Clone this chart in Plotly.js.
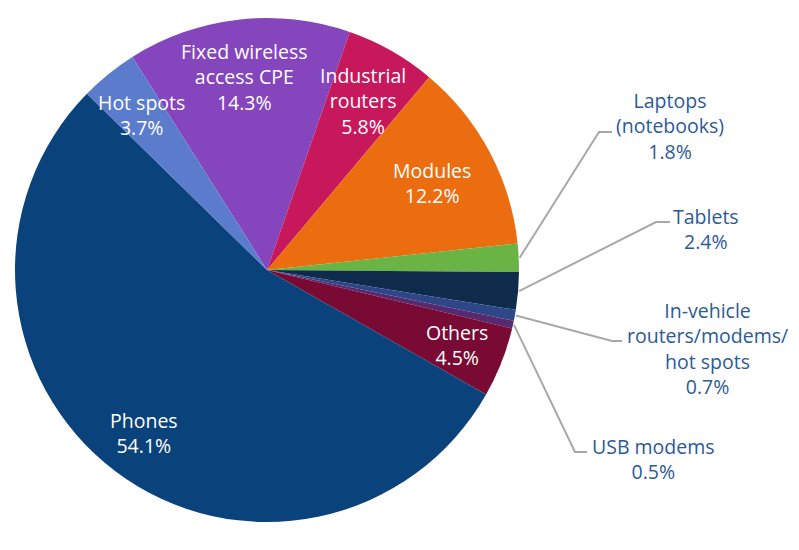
<!DOCTYPE html>
<html>
<head>
<meta charset="utf-8">
<script src="https://cdn.plot.ly/plotly-3.0.1.min.js"></script>
<style>html,body{margin:0;padding:0;background:#fff;}#chart{width:799px;height:550px;}</style>
</head>
<body>
<div id="chart"></div>
<script>
// ---- data ----
const categories = ["Fixed wireless access CPE", "Industrial routers", "Modules", "Laptops (notebooks)", "Tablets",
  "In-vehicle routers/modems/hot spots", "USB modems", "Others", "Phones", "Hot spots"];
const labelText = ["Fixed wireless<br>access CPE", "Industrial<br>routers", "Modules", "Laptops<br>(notebooks)", "Tablets",
  "In-vehicle<br>routers/modems/<br>hot spots", "USB modems", "Others", "Phones", "Hot spots"];
const shares = [14.3, 5.8, 12.2, 1.8, 2.4, 0.7, 0.5, 4.5, 54.1, 3.7];
const colors = ["#8445bd", "#c8185c", "#ec6c10", "#6ab445", "#0f2b4c", "#2d4688", "#57296f", "#780a33", "#0a437b", "#5b7ccc"];

// ---- layout geometry ----
const W = 799, H = 550;
const CX = 267, CY = 270, R = 252;
const ROT = -32.3;
const FS = 19.5;
// inside-label radial fraction (null = outside label)
const insideFrac = [0.77, 0.77, 0.74, null, null, null, null, 0.81, 0.81, 0.79];
// outside labels: elbow point, end of horizontal, text centre (pixels)
const outside = {
  3: {elbow: [599, 132], end: [612, 132], text: [670, 126]},
  4: {elbow: [656, 222], end: [670, 222], text: [706, 229]},
  5: {elbow: [612, 341], end: [622, 341], text: [707, 348]},
  6: {elbow: [575, 452], end: [587, 452], text: [653, 459]}
};

const px = x => x / W;
const py = y => 1 - y / H;
const total = shares.reduce((a, b) => a + b, 0);

const annotations = [];
const shapes = [];
let cum = 0;
shares.forEach((v, i) => {
  const mid = (ROT + 360 * (cum + v / 2) / total) * Math.PI / 180;
  cum += v;
  const pct = v.toFixed(1) + "%";
  if (insideFrac[i] !== null) {
    const r = R * insideFrac[i];
    annotations.push({
      x: px(CX + r * Math.sin(mid)), y: py(CY - r * Math.cos(mid)),
      xref: "paper", yref: "paper", xanchor: "center", yanchor: "middle",
      text: labelText[i] + "<br>" + pct, showarrow: false,
      font: {family: "Open Sans", size: FS, color: "#ffffff"}
    });
  } else {
    const o = outside[i];
    const sx = CX + (R + 1) * Math.sin(mid), sy = CY - (R + 1) * Math.cos(mid);
    shapes.push({
      type: "path", xref: "paper", yref: "paper",
      path: `M ${px(sx)},${py(sy)} L ${px(o.elbow[0])},${py(o.elbow[1])} L ${px(o.end[0])},${py(o.end[1])}`,
      line: {color: "#a8a8a8", width: 2}
    });
    annotations.push({
      x: px(o.text[0]), y: py(o.text[1]),
      xref: "paper", yref: "paper", xanchor: "center", yanchor: "middle",
      text: labelText[i] + "<br>" + pct, showarrow: false,
      font: {family: "Open Sans", size: FS, color: "#2b5a96"}
    });
  }
});

const trace = {
  type: "pie",
  labels: categories,
  values: shares,
  sort: false,
  direction: "clockwise",
  rotation: ROT,
  marker: {colors: colors, line: {width: 0}},
  textinfo: "none",
  hoverinfo: "skip",
  domain: {x: [(CX - R) / W, (CX + R) / W], y: [1 - (CY + R) / H, 1 - (CY - R) / H]}
};

const layout = {
  width: W, height: H,
  margin: {l: 0, r: 0, t: 0, b: 0},
  paper_bgcolor: "#ffffff",
  showlegend: false,
  annotations: annotations,
  shapes: shapes
};

Plotly.newPlot("chart", [trace], layout, {staticPlot: true, displayModeBar: false});
</script>
</body>
</html>
